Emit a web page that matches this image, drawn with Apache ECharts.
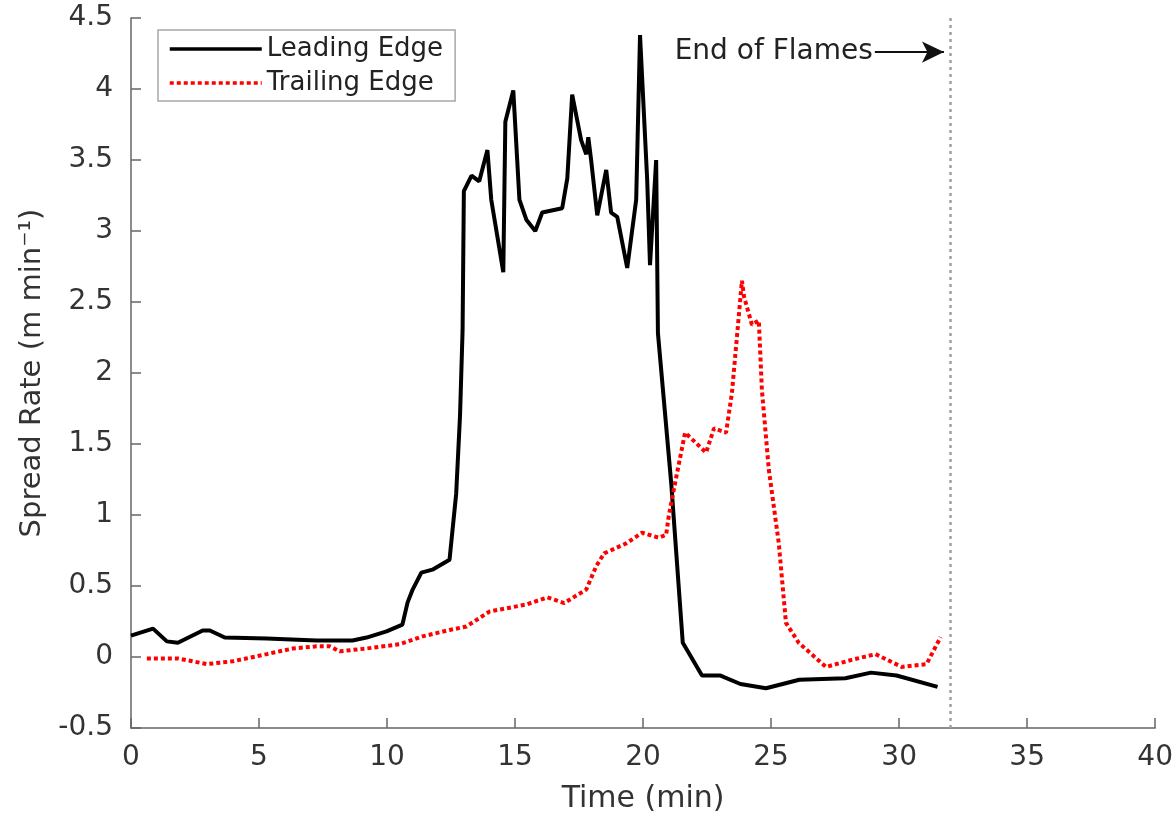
<!DOCTYPE html>
<html>
<head>
<meta charset="utf-8">
<script src="https://cdn.jsdelivr.net/npm/echarts@6/dist/echarts.min.js"></script>
<style>
  html, body { margin: 0; padding: 0; background: #fff; }
  #chart { width: 1176px; height: 819px; }
</style>
</head>
<body>
<div id="chart"></div>
<script>
// time (min), spread rate (m/min)
const leadingEdge = [
  [0, 0.15], [0.86, 0.2], [1.4, 0.11], [1.83, 0.1], [2.8, 0.187], [3.08, 0.187],
  [3.66, 0.137], [5.3, 0.13], [7.25, 0.116], [8.65, 0.116], [9.2, 0.137], [9.98, 0.18],
  [10.6, 0.228], [10.8, 0.383], [11.0, 0.475], [11.34, 0.594], [11.77, 0.615], [12.44, 0.685],
  [12.7, 1.15], [12.85, 1.7], [12.95, 2.3], [13.0, 3.28], [13.3, 3.39], [13.6, 3.35],
  [13.92, 3.57], [14.07, 3.22], [14.54, 2.71], [14.62, 3.77], [14.93, 3.99], [15.17, 3.22],
  [15.44, 3.08], [15.79, 3.0], [16.06, 3.13], [16.84, 3.16], [17.04, 3.37], [17.23, 3.96],
  [17.58, 3.64], [17.78, 3.54], [17.86, 3.66], [17.97, 3.5], [18.21, 3.11], [18.56, 3.43],
  [18.75, 3.13], [18.99, 3.1], [19.38, 2.74], [19.73, 3.22], [19.88, 4.38], [20.16, 3.36],
  [20.27, 2.76], [20.51, 3.5], [20.58, 2.28], [21.1, 1.22], [21.55, 0.1], [22.3, -0.13],
  [23.0, -0.13], [23.8, -0.19], [24.8, -0.22], [26.1, -0.16], [27.9, -0.15], [28.9, -0.11],
  [29.9, -0.13], [31.5, -0.21]
];
const trailingEdge = [
  [0.62, -0.01], [1.83, -0.01], [2.96, -0.05], [3.98, -0.03], [5.3, 0.02], [6.32, 0.06],
  [7.25, 0.075], [7.76, 0.075], [8.15, 0.04], [9.2, 0.06], [10.49, 0.09], [11.38, 0.145],
  [12.44, 0.19], [13.1, 0.215], [14.0, 0.32], [15.44, 0.37], [16.26, 0.42], [16.92, 0.38],
  [17.78, 0.475], [18.17, 0.64], [18.48, 0.73], [19.34, 0.8], [19.96, 0.875], [20.62, 0.84],
  [20.9, 0.86], [21.0, 0.99], [21.2, 1.18], [21.64, 1.58], [22.46, 1.44], [22.77, 1.61],
  [23.24, 1.58], [23.47, 1.86], [23.86, 2.65], [23.94, 2.54], [24.25, 2.34], [24.52, 2.37],
  [24.64, 1.88], [24.91, 1.32], [25.3, 0.8], [25.58, 0.24], [26.08, 0.1], [27.14, -0.07],
  [28.15, -0.02], [29.08, 0.02], [30.1, -0.07], [31.07, -0.05], [31.62, 0.14]
];
const endOfFlames = 32;
const arrowFrom = [29.05, 4.26];
const arrowTo = [31.75, 4.26];

const font = 'DejaVu Sans';
const chart = echarts.init(document.getElementById('chart'));

chart.setOption({
  animation: false,
  grid: { left: 131, right: 19, top: 18, bottom: 90 },
  legend: {
    orient: 'vertical',
    left: 158,
    top: 30,
    padding: [4, 12, 3, 10],
    itemGap: 4,
    itemWidth: 92,
    itemHeight: 14,
    backgroundColor: '#fff',
    borderColor: '#a8a8a8',
    borderWidth: 1.5,
    lineStyle: { width: 3.5 },
    itemStyle: { color: 'transparent', borderWidth: 0, opacity: 0 },
    textStyle: { fontFamily: font, fontSize: 26, color: '#222', lineHeight: 30 },
    data: ['Leading Edge', 'Trailing Edge']
  },
  xAxis: {
    type: 'value',
    min: 0, max: 40, interval: 5,
    name: 'Time (min)',
    nameLocation: 'middle',
    nameGap: 56,
    nameTextStyle: { fontFamily: font, fontSize: 30, color: '#333' },
    axisLine: { onZero: false, lineStyle: { color: '#666', width: 1.5 } },
    axisTick: { inside: true, length: 10, lineStyle: { color: '#666', width: 1.5 } },
    axisLabel: { fontFamily: font, fontSize: 28, color: '#333', margin: 16 },
    splitLine: { show: false }
  },
  yAxis: {
    type: 'value',
    min: -0.5, max: 4.5, interval: 0.5,
    name: 'Spread Rate (m min⁻¹)',
    nameLocation: 'middle',
    nameGap: 84,
    nameTextStyle: { fontFamily: font, fontSize: 29, color: '#333' },
    axisLine: { show: true, lineStyle: { color: '#666', width: 1.5 } },
    axisTick: { inside: true, length: 10, lineStyle: { color: '#666', width: 1.5 } },
    axisLabel: { fontFamily: font, fontSize: 28, color: '#333', margin: 18 },
    splitLine: { show: false }
  },
  series: [
    {
      name: 'Leading Edge',
      type: 'line',
      data: leadingEdge,
      symbol: 'none',
      lineStyle: { color: '#000', width: 4 },
      itemStyle: { color: '#000' },
      markLine: {
        silent: true,
        animation: false,
        data: [[
          { coord: arrowFrom, symbol: 'none' },
          { coord: arrowTo, symbol: 'arrow', symbolSize: [16, 22] }
        ]],
        lineStyle: { color: '#111', width: 2, type: 'solid' },
        label: {
          show: true,
          position: 'start',
          distance: 2,
          formatter: 'End of Flames',
          fontFamily: font,
          fontSize: 28,
          color: '#222'
        }
      }
    },
    {
      name: 'Trailing Edge',
      type: 'line',
      data: trailingEdge,
      symbol: 'none',
      lineStyle: { color: '#ff0000', width: 4, type: [4, 3] },
      itemStyle: { color: '#ff0000' },
      markLine: {
        silent: true,
        animation: false,
        symbol: 'none',
        label: { show: false },
        lineStyle: { color: '#a0a0a0', width: 2.5, type: [3, 4] },
        data: [{ xAxis: endOfFlames }]
      }
    }
  ]
});
</script>
</body>
</html>
